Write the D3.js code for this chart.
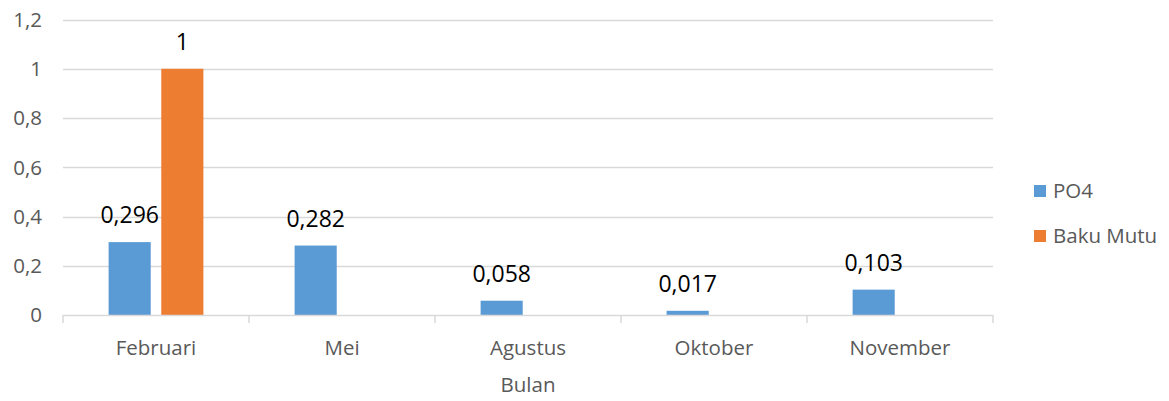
<!DOCTYPE html>
<html><head><meta charset="utf-8">
<script src="https://cdn.jsdelivr.net/npm/d3@7"></script>
<style>body{margin:0;background:#fff}svg{display:block}</style>
</head><body><svg id="c" width="1169" height="401"></svg>
<script>
const categories = ["Februari","Mei","Agustus","Oktober","November"];
const seriesNames = ["PO4","Baku Mutu"];
const po4 = [0.296,0.282,0.058,0.017,0.103];
const bakuMutu = [1,null,null,null,null];
const yTicks = [0,0.2,0.4,0.6,0.8,1,1.2];
const colors = ["#5B9BD5","#ED7D31"];
const xTitle = "Bulan";

const svg = d3.select("#c");
const font = "'Open Sans', sans-serif";
const fs = 20.5;
const L = 63, R = 993, T = 19.5, B = 315;
const y = d3.scaleLinear().domain([0,1.2]).range([B,T]);
const x0 = d3.scaleBand().domain(categories).range([L,R]).padding(0);
const bw = x0.bandwidth();
const x1 = d3.scaleBand().domain(seriesNames).range([bw/2-47.4, bw/2+47.4]).paddingInner(0.2);
const fmt = v => String(v).replace(".", ",");

// gridlines
svg.append("g").selectAll("line").data(yTicks.filter(t=>t>0)).join("line")
  .attr("x1",L).attr("x2",R).attr("y1",d=>Math.round(y(d))+0.5).attr("y2",d=>Math.round(y(d))+0.5)
  .attr("stroke","#D9D9D9").attr("stroke-width",1.3);

// y labels
svg.append("g").selectAll("text").data(yTicks).join("text")
  .attr("x",42).attr("y",d=>y(d)).attr("dy","0.36em").attr("text-anchor","end")
  .attr("font-family",font).attr("font-size",fs).attr("fill","#595959").text(fmt);

// bars
const data = categories.map((c,i)=>({c, vals:[po4[i], bakuMutu[i]]}));
const g = svg.append("g").selectAll("g").data(data).join("g")
  .attr("transform",d=>`translate(${x0(d.c)},0)`);
const bars = g.selectAll("g").data(d=>d.vals.map((v,k)=>({v,k})).filter(e=>e.v!=null)).join("g");
bars.append("rect").attr("x",d=>x1(seriesNames[d.k])).attr("width",x1.bandwidth())
  .attr("y",d=>y(d.v)).attr("height",d=>B-y(d.v)).attr("fill",d=>colors[d.k]);
bars.append("text").attr("x",d=>x1(seriesNames[d.k])+x1.bandwidth()/2).attr("y",d=>y(d.v)-19)
  .attr("text-anchor","middle").attr("font-family",font).attr("font-size",23).attr("fill","#000")
  .text(d=>fmt(d.v));

// x axis
const ax = svg.append("g");
ax.append("line").attr("x1",L).attr("x2",R).attr("y1",B+0.5).attr("y2",B+0.5).attr("stroke","#D9D9D9").attr("stroke-width",1.5);
const bounds = categories.map(c=>x0(c)).concat([R]);
ax.selectAll("line.t").data(bounds).join("line").attr("class","t")
  .attr("x1",d=>d).attr("x2",d=>d).attr("y1",B).attr("y2",B+8).attr("stroke","#D9D9D9").attr("stroke-width",1.5);
ax.selectAll("text").data(categories).join("text")
  .attr("x",d=>x0(d)+bw/2).attr("y",355).attr("text-anchor","middle")
  .attr("font-family",font).attr("font-size",fs).attr("fill","#595959").text(d=>d);
svg.append("text").attr("x",(L+R)/2).attr("y",392).attr("text-anchor","middle")
  .attr("font-family",font).attr("font-size",fs).attr("fill","#595959").text(xTitle);

// legend
const lg = svg.append("g").selectAll("g").data(seriesNames).join("g")
  .attr("transform",(d,i)=>`translate(1034,${191+i*45})`);
lg.append("rect").attr("x",0).attr("y",-6).attr("width",12).attr("height",12).attr("fill",(d,i)=>colors[i]);
lg.append("text").attr("x",19).attr("y",0).attr("dy","0.36em").attr("font-family",font)
  .attr("font-size",fs).attr("fill","#595959").text(d=>d);
</script></body></html>
